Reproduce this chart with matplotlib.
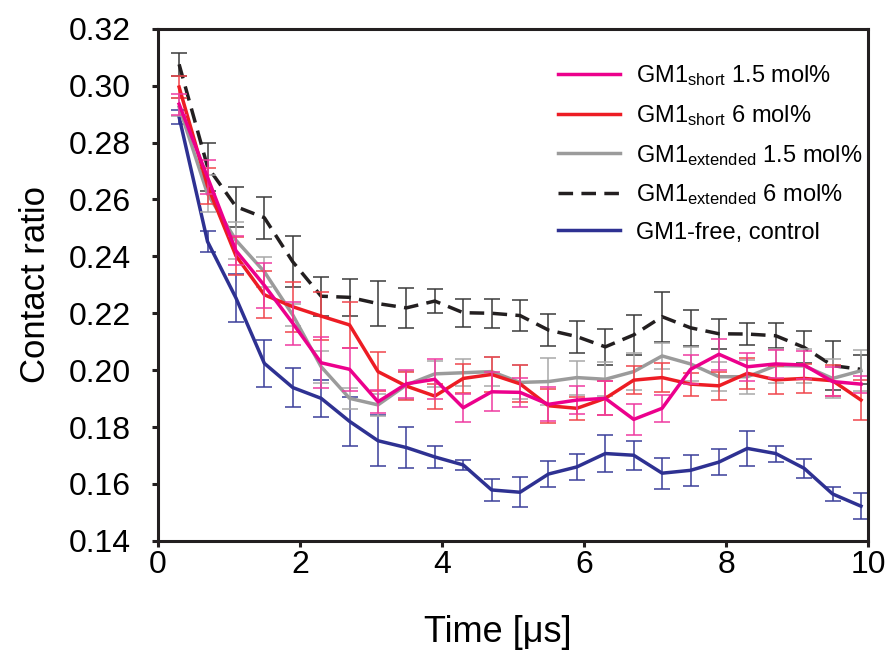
import matplotlib
matplotlib.use("Agg")
import matplotlib.pyplot as plt

plt.rcParams['font.family'] = ['Liberation Sans', 'DejaVu Sans']
plt.rcParams['mathtext.fontset'] = 'custom'
plt.rcParams['mathtext.rm'] = 'Liberation Sans'
plt.rcParams['mathtext.it'] = 'Liberation Sans'

# Time points [us]
time = [0.3, 0.7, 1.1, 1.5, 1.9, 2.3, 2.7, 3.1, 3.5, 3.9, 4.3, 4.7, 5.1,
        5.5, 5.9, 6.3, 6.7, 7.1, 7.5, 7.9, 8.3, 8.7, 9.1, 9.5, 9.9]

# GM1 short 1.5 mol%
short_15 = [0.2935, 0.2678, 0.2420, 0.2298, 0.2165, 0.2026, 0.2003, 0.1889, 0.1952,
            0.1968, 0.1868, 0.1924, 0.1922, 0.1880, 0.1895, 0.1901, 0.1827, 0.1866,
            0.2003, 0.2056, 0.2012, 0.2022, 0.2018, 0.1960, 0.1951]
short_15_err = [0.0037, 0.006, 0.005, 0.008, 0.0075, 0.009, 0.0075, 0.004, 0.005, 0.007,
                0.005, 0.0068, 0.005, 0.006, 0.005, 0.006, 0.0054, 0.0047, 0.005, 0.0054,
                0.005, 0.005, 0.005, 0.005, 0.003]

# GM1 short 6 mol%
short_6 = [0.2995, 0.2648, 0.2402, 0.2265, 0.2223, 0.2190, 0.2159, 0.1995, 0.1944,
           0.1909, 0.1971, 0.1985, 0.1952, 0.1875, 0.1866, 0.1901, 0.1965, 0.1974,
           0.1951, 0.1945, 0.1989, 0.1966, 0.1971, 0.1963, 0.1895]
short_6_err = [0.004, 0.0064, 0.0067, 0.0083, 0.0088, 0.0085, 0.008, 0.0068, 0.005, 0.0044,
               0.005, 0.006, 0.0065, 0.006, 0.004, 0.006, 0.005, 0.005, 0.004, 0.005,
               0.0055, 0.005, 0.005, 0.0055, 0.007]

# GM1 extended 1.5 mol%
ext_15 = [0.2925, 0.2620, 0.2457, 0.2346, 0.2194, 0.2012, 0.1901, 0.1878, 0.1948,
          0.1987, 0.1991, 0.1995, 0.1957, 0.1960, 0.1974, 0.1968, 0.1995, 0.2050,
          0.2022, 0.1977, 0.1977, 0.2016, 0.2015, 0.1971, 0.1998]
ext_15_err = [0.003, 0.0065, 0.0065, 0.0053, 0.004, 0.0057, 0.0036, 0.004, 0.005, 0.0047,
              0.0047, 0.005, 0.006, 0.0082, 0.006, 0.006, 0.0065, 0.0045, 0.006, 0.005,
              0.006, 0.006, 0.006, 0.007, 0.0072]

# GM1 extended 6 mol%
ext_6 = [0.3075, 0.2715, 0.2575, 0.2536, 0.2381, 0.2260, 0.2256, 0.2234, 0.2219,
         0.2243, 0.2202, 0.2200, 0.2192, 0.2141, 0.2118, 0.2082, 0.2124, 0.2188,
         0.2149, 0.2128, 0.2127, 0.2121, 0.2080, 0.2016, 0.2003]
ext_6_err = [0.004, 0.0085, 0.007, 0.0074, 0.009, 0.0069, 0.0066, 0.0078, 0.0069, 0.0041,
             0.0049, 0.005, 0.0056, 0.0056, 0.0056, 0.0063, 0.007, 0.0088, 0.0064, 0.0052,
             0.0038, 0.0044, 0.0056, 0.0085, 0.005]

# GM1-free control
control = [0.2890, 0.2452, 0.2254, 0.2024, 0.1939, 0.1901, 0.1820, 0.1752, 0.1728,
           0.1695, 0.1667, 0.1579, 0.1571, 0.1635, 0.1660, 0.1707, 0.1701, 0.1638,
           0.1648, 0.1677, 0.1725, 0.1707, 0.1655, 0.1565, 0.1522]
control_err = [0.0025, 0.0038, 0.0083, 0.0082, 0.007, 0.0064, 0.0087, 0.009, 0.0072, 0.004,
               0.0018, 0.0039, 0.0053, 0.0047, 0.0047, 0.0066, 0.0051, 0.0055, 0.0054,
               0.0046, 0.0062, 0.0028, 0.0033, 0.0026, 0.0046]

fig = plt.figure(figsize=(8.89, 6.69), dpi=100)
ax = fig.add_axes([0.1775, 0.1915, 0.7990, 0.7655])

series = [
    (ext_6, ext_6_err, '#231F20', '#3a3a3a', '--', r'GM1$_{\mathrm{extended}}$ 6 mol%'),
    (control, control_err, '#2E3192', '#3b3f9a', '-', 'GM1-free, control'),
    (ext_15, ext_15_err, '#9B9B9B', '#a8a8a8', '-', r'GM1$_{\mathrm{extended}}$ 1.5 mol%'),
    (short_6, short_6_err, '#ED1C24', '#f0454c', '-', r'GM1$_{\mathrm{short}}$ 6 mol%'),
    (short_15, short_15_err, '#EC008C', '#ef3aa0', '-', r'GM1$_{\mathrm{short}}$ 1.5 mol%'),
]

handles = {}
for y, e, col, ecol, ls, lab in series:
    ax.errorbar(time, y, yerr=e, fmt='none', ecolor=ecol, elinewidth=1.1,
                capsize=5.5, capthick=1.1)
    ln, = ax.plot(time, y, color=col, lw=2.5, ls=ls, label=lab)
    if ls == '--':
        ln.set_dashes((4.2, 2.4))
    handles[lab] = ln

order = [r'GM1$_{\mathrm{short}}$ 1.5 mol%', r'GM1$_{\mathrm{short}}$ 6 mol%',
         r'GM1$_{\mathrm{extended}}$ 1.5 mol%', r'GM1$_{\mathrm{extended}}$ 6 mol%',
         'GM1-free, control']
ax.legend([handles[k] for k in order], order, loc='upper left',
          bbox_to_anchor=(0.563, 0.932), frameon=False, fontsize=17,
          borderpad=0, borderaxespad=0,
          handlelength=2.65, handletextpad=0.68, labelspacing=0.62)

ax.set_xlim(0, 10)
ax.set_ylim(0.14, 0.32)
ax.set_xticks([0, 2, 4, 6, 8, 10])
ax.set_yticks([0.14, 0.16, 0.18, 0.20, 0.22, 0.24, 0.26, 0.28, 0.30, 0.32])
ax.set_yticklabels(['0.14', '0.16', '0.18', '0.20', '0.22', '0.24', '0.26',
                    '0.28', '0.30', '0.32'])
ax.tick_params(direction='out', length=4.5, width=2.2, labelsize=23, color='#231F20')
ax.tick_params(axis='x', pad=2)
ax.tick_params(axis='y', pad=15)
for sp in ax.spines.values():
    sp.set_linewidth(2.2)
    sp.set_color('#231F20')

ax.set_xlabel('Time [\u03bcs]', fontsize=26)
ax.xaxis.set_label_coords(0.479, -0.145)
ax.set_ylabel('Contact ratio', fontsize=25, labelpad=12)

fig.savefig('out.png', dpi=100)
